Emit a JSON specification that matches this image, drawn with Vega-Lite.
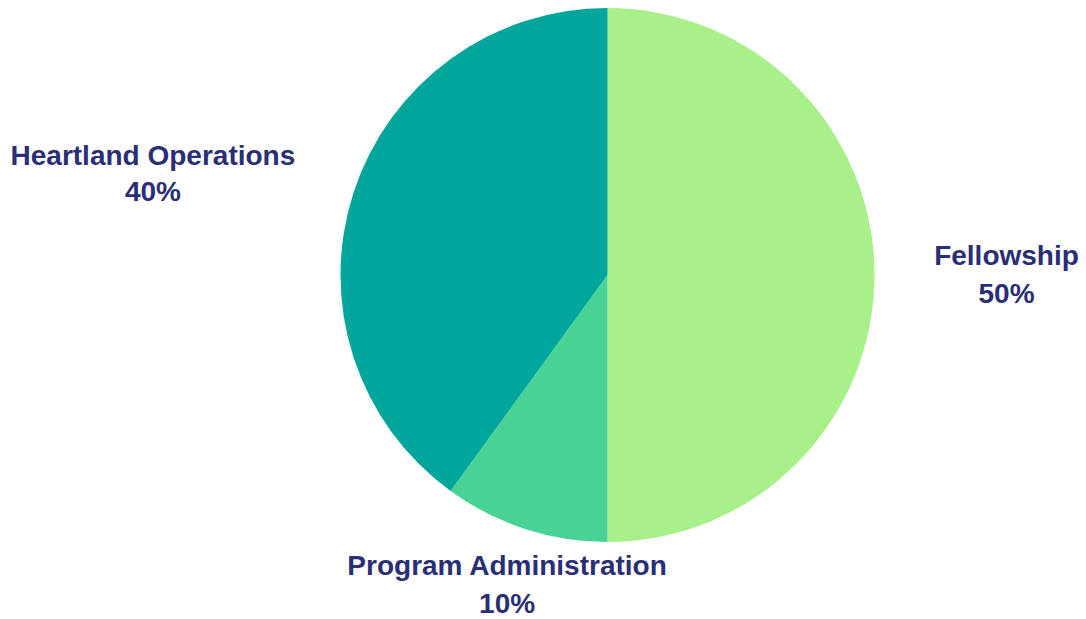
{
  "$schema": "https://vega.github.io/schema/vega-lite/v6.json",
  "width": 957,
  "height": 550,
  "autosize": {"type": "none"},
  "padding": {"left": 129, "right": 0, "top": 0, "bottom": 69},
  "background": "white",
  "config": {"view": {"stroke": null}},
  "data": {
    "values": [
      {"category": "Fellowship", "value": 0.5, "order": 1},
      {"category": "Program Administration", "value": 0.1, "order": 2},
      {"category": "Heartland Operations", "value": 0.4, "order": 3}
    ]
  },
  "encoding": {
    "theta": {"field": "value", "type": "quantitative", "stack": true},
    "order": {"field": "order", "type": "quantitative", "sort": "ascending"},
    "detail": {"field": "category", "type": "nominal"}
  },
  "layer": [
    {
      "mark": {"type": "arc", "outerRadius": 267, "stroke": null},
      "encoding": {
        "color": {
          "field": "category",
          "type": "nominal",
          "scale": {
            "domain": ["Fellowship", "Program Administration", "Heartland Operations"],
            "range": ["#a8f089", "#48d293", "#00a69c"]
          },
          "legend": null
        }
      }
    },
    {
      "mark": {"type": "text", "radius": 399, "dy": -18, "font": "Liberation Sans", "fontSize": 28, "fontWeight": "bold", "fill": "#2a2f75", "align": "center", "baseline": "middle"},
      "encoding": {"text": {"condition": {"test": "datum.category === 'Fellowship'", "field": "category"}, "value": ""}}
    },
    {
      "mark": {"type": "text", "radius": 399, "dy": 20, "font": "Liberation Sans", "fontSize": 28, "fontWeight": "bold", "fill": "#2a2f75", "align": "center", "baseline": "middle"},
      "encoding": {"text": {"condition": {"test": "datum.category === 'Fellowship'", "field": "value", "type": "quantitative", "format": ".0%"}, "value": ""}}
    },
    {
      "mark": {"type": "text", "radius": 325, "dy": -17, "font": "Liberation Sans", "fontSize": 28, "fontWeight": "bold", "fill": "#2a2f75", "align": "center", "baseline": "middle"},
      "encoding": {"text": {"condition": {"test": "datum.category === 'Program Administration'", "field": "category"}, "value": ""}}
    },
    {
      "mark": {"type": "text", "radius": 325, "dy": 21, "font": "Liberation Sans", "fontSize": 28, "fontWeight": "bold", "fill": "#2a2f75", "align": "center", "baseline": "middle"},
      "encoding": {"text": {"condition": {"test": "datum.category === 'Program Administration'", "field": "value", "type": "quantitative", "format": ".0%"}, "value": ""}}
    },
    {
      "mark": {"type": "text", "radius": 478, "dy": 30, "font": "Liberation Sans", "fontSize": 28, "fontWeight": "bold", "fill": "#2a2f75", "align": "center", "baseline": "middle"},
      "encoding": {"text": {"condition": {"test": "datum.category === 'Heartland Operations'", "field": "category"}, "value": ""}}
    },
    {
      "mark": {"type": "text", "radius": 478, "dy": 66, "font": "Liberation Sans", "fontSize": 28, "fontWeight": "bold", "fill": "#2a2f75", "align": "center", "baseline": "middle"},
      "encoding": {"text": {"condition": {"test": "datum.category === 'Heartland Operations'", "field": "value", "type": "quantitative", "format": ".0%"}, "value": ""}}
    }
  ]
}
